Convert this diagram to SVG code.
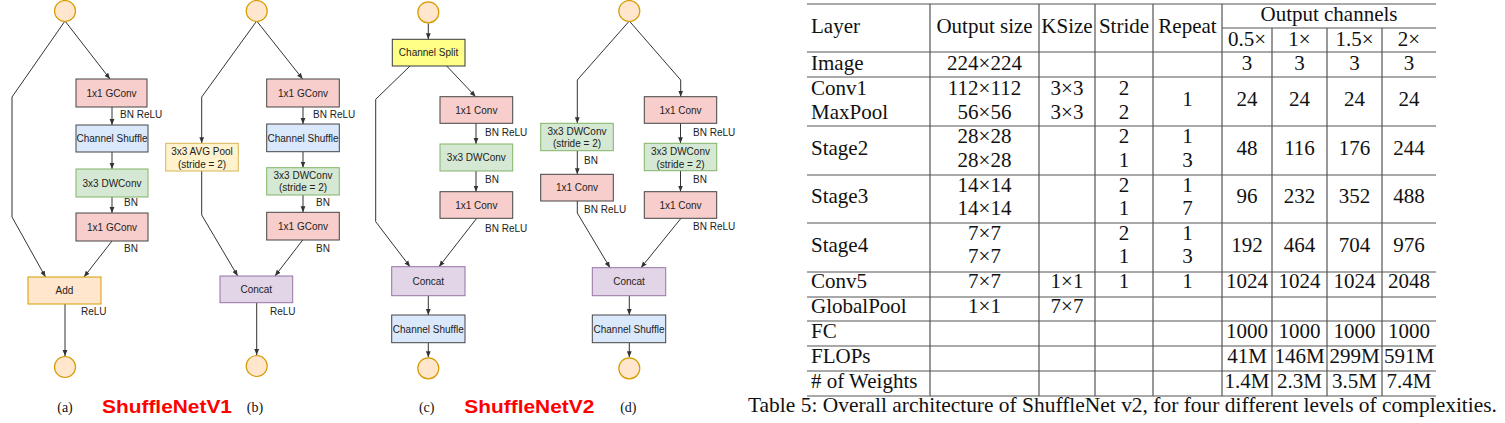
<svg xmlns="http://www.w3.org/2000/svg" width="1505" height="423" viewBox="0 0 1505 423">
<style>
.lbl{font-family:"Liberation Sans",Arial,sans-serif;font-size:10px;fill:#222}
.bt{font-family:"Liberation Sans",Arial,sans-serif;font-size:10px;fill:#222;text-anchor:middle}
.cap{font-family:"Liberation Serif","Times New Roman",serif;font-size:14px;fill:#111;text-anchor:middle}
.red{font-family:"Liberation Sans",Arial,sans-serif;font-size:19px;font-weight:bold;fill:#ff0000}
.io{fill:#ffe6cc;stroke:#d79b00;stroke-width:1.2}
.pink{fill:#f8cecc;stroke:#444;stroke-width:1}
.blue{fill:#dae8fc;stroke:#444;stroke-width:1}
.green{fill:#d5e8d4;stroke:#82b366;stroke-width:1}
.ylw{fill:#fff2cc;stroke:#d6b656;stroke-width:1}
.orng{fill:#ffe6cc;stroke:#d79b00;stroke-width:1}
.purp{fill:#e1d5e7;stroke:#9673a6;stroke-width:1}
.split{fill:#ffff88;stroke:#36393d;stroke-width:1}
.edge{fill:none;stroke:#333;stroke-width:1;marker-end:url(#ah)}
.t{font-family:"Liberation Serif","Times New Roman",serif;font-size:21px;fill:#111}
.tc{font-family:"Liberation Serif","Times New Roman",serif;font-size:21px;fill:#111;text-anchor:middle}
.grid{stroke:#555;stroke-width:1.2;fill:none}
</style>
<defs>
<marker id="ah" viewBox="0 0 10 10" refX="10" refY="5" markerWidth="6" markerHeight="6" markerUnits="userSpaceOnUse" orient="auto"><path d="M0,1 L10,5 L0,9 z" fill="#333"/></marker>
</defs>
<rect width="1505" height="423" fill="#fff"/>

<g id="connectors">
<path class="edge" d="M65,21 L12,97 L12,217 L45.5,277"/>
<path class="edge" d="M65,21 L110,79"/>
<path class="edge" d="M112,107 L112,125"/>
<path class="edge" d="M112,152 L112,169"/>
<path class="edge" d="M112,197 L112,213"/>
<path class="edge" d="M112,241 L84,277"/>
<path class="edge" d="M65,304 L65,356"/>
<path class="edge" d="M256.7,21 L201.7,97 L201.7,143.3"/>
<path class="edge" d="M256.7,21 L302.7,79"/>
<path class="edge" d="M303,107 L303,124"/>
<path class="edge" d="M303,151.7 L303,167.7"/>
<path class="edge" d="M303,195 L303,212.3"/>
<path class="edge" d="M201.7,171 L201.7,215 L237.7,276"/>
<path class="edge" d="M302.7,240 L275,276"/>
<path class="edge" d="M256.7,302.7 L256.7,355"/>
<path class="edge" d="M428.3,23.3 L428.3,39.3"/>
<path class="edge" d="M410,66 L375.7,99.3 L375.7,221.7 L410,266.7"/>
<path class="edge" d="M446.7,66 L475.7,96.7"/>
<path class="edge" d="M476,123.3 L476,144"/>
<path class="edge" d="M476,171 L476,191.7"/>
<path class="edge" d="M476.7,218.3 L439,266.7"/>
<path class="edge" d="M428.3,295.7 L428.3,315"/>
<path class="edge" d="M428.3,342.7 L428.3,357.3"/>
<path class="edge" d="M629.3,21 L577.3,80 L577.3,123.3"/>
<path class="edge" d="M629.3,21 L680.7,80 L680.7,96.7"/>
<path class="edge" d="M577.3,150.7 L577.3,174.3"/>
<path class="edge" d="M577.3,201 L577.3,213 L610,267.7"/>
<path class="edge" d="M680.5,123.3 L680.5,143.3"/>
<path class="edge" d="M680.5,170.7 L680.5,191.7"/>
<path class="edge" d="M681,218.3 L641,267.7"/>
<path class="edge" d="M629.3,295.7 L629.3,315"/>
<path class="edge" d="M629.3,342.7 L629.3,357.3"/>
</g>

<g id="edge-labels">
<text class="lbl" x="120" y="118">BN ReLU</text>
<text class="lbl" x="124" y="206">BN</text>
<text class="lbl" x="124" y="252">BN</text>
<text class="lbl" x="81" y="315">ReLU</text>
<text class="lbl" x="313" y="118">BN ReLU</text>
<text class="lbl" x="316" y="206">BN</text>
<text class="lbl" x="316" y="252">BN</text>
<text class="lbl" x="270" y="315">ReLU</text>
<text class="lbl" x="485" y="136">BN ReLU</text>
<text class="lbl" x="485" y="183">BN</text>
<text class="lbl" x="485" y="232">BN ReLU</text>
<text class="lbl" x="584" y="164">BN</text>
<text class="lbl" x="584" y="213">BN ReLU</text>
<text class="lbl" x="693" y="136">BN ReLU</text>
<text class="lbl" x="693" y="183">BN</text>
<text class="lbl" x="693" y="230">BN ReLU</text>
</g>

<g id="a_in"><circle class="io" cx="65" cy="11" r="10.5"/></g>
<g id="a_gconv1"><rect class="pink" x="76" y="79" width="71" height="28"/><text class="bt" x="111.5" y="96.5">1x1 GConv</text></g>
<g id="a_shuffle"><rect class="blue" x="76" y="125" width="72" height="27"/><text class="bt" x="112" y="142">Channel Shuffle</text></g>
<g id="a_dw"><rect class="green" x="76" y="169" width="72" height="28"/><text class="bt" x="112" y="186.5">3x3 DWConv</text></g>
<g id="a_gconv2"><rect class="pink" x="76" y="213" width="72" height="28"/><text class="bt" x="112" y="230.5">1x1 GConv</text></g>
<g id="a_add"><rect class="orng" x="28" y="277" width="73" height="27"/><text class="bt" x="64.5" y="294">Add</text></g>
<g id="a_out"><circle class="io" cx="65" cy="367" r="10.5"/></g>

<g id="b_in"><circle class="io" cx="256.7" cy="11" r="10.5"/></g>
<g id="b_avg"><rect class="ylw" x="165.7" y="143.3" width="72.6" height="27.7"/><text class="bt" x="202" y="155">3x3 AVG Pool</text><text class="bt" x="202" y="167.5">(stride = 2)</text></g>
<g id="b_gconv1"><rect class="pink" x="266.7" y="79" width="72.6" height="28"/><text class="bt" x="303" y="96.5">1x1 GConv</text></g>
<g id="b_shuffle"><rect class="blue" x="266.7" y="124" width="72.6" height="27.7"/><text class="bt" x="303" y="141.5">Channel Shuffle</text></g>
<g id="b_dw"><rect class="green" x="266.7" y="167.7" width="72.6" height="27.3"/><text class="bt" x="303" y="179">3x3 DWConv</text><text class="bt" x="303" y="191">(stride = 2)</text></g>
<g id="b_gconv2"><rect class="pink" x="266.7" y="212.3" width="72.6" height="27.7"/><text class="bt" x="303" y="229.5">1x1 GConv</text></g>
<g id="b_concat"><rect class="purp" x="220" y="276" width="72.7" height="26.7"/><text class="bt" x="256.3" y="293">Concat</text></g>
<g id="b_out"><circle class="io" cx="256.7" cy="366" r="10.5"/></g>

<g id="c_in"><circle class="io" cx="428.3" cy="12.3" r="10.5"/></g>
<g id="c_split"><rect class="split" x="392.3" y="39.3" width="72.7" height="26.7"/><text class="bt" x="428.6" y="56">Channel Split</text></g>
<g id="c_conv1"><rect class="pink" x="440" y="96.7" width="72.7" height="26.6"/><text class="bt" x="476.3" y="113.5">1x1 Conv</text></g>
<g id="c_dw"><rect class="green" x="440" y="144" width="72.7" height="27"/><text class="bt" x="476.3" y="161">3x3 DWConv</text></g>
<g id="c_conv2"><rect class="pink" x="440" y="191.7" width="72.7" height="26.6"/><text class="bt" x="476.3" y="208.5">1x1 Conv</text></g>
<g id="c_concat"><rect class="purp" x="391.7" y="266.7" width="73.3" height="29"/><text class="bt" x="428.3" y="284.5">Concat</text></g>
<g id="c_shuffle"><rect class="blue" x="391.7" y="315" width="73.3" height="27.7"/><text class="bt" x="428.3" y="332.5">Channel Shuffle</text></g>
<g id="c_out"><circle class="io" cx="428.3" cy="368.3" r="10.5"/></g>

<g id="d_in"><circle class="io" cx="629.3" cy="11" r="10.5"/></g>
<g id="d_ldw"><rect class="green" x="540.7" y="123.3" width="72.6" height="27.4"/><text class="bt" x="577" y="135">3x3 DWConv</text><text class="bt" x="577" y="147">(stride = 2)</text></g>
<g id="d_lconv"><rect class="pink" x="540.7" y="174.3" width="72.6" height="26.7"/><text class="bt" x="577" y="191">1x1 Conv</text></g>
<g id="d_rconv1"><rect class="pink" x="644.3" y="96.7" width="72.4" height="26.6"/><text class="bt" x="680.5" y="113.5">1x1 Conv</text></g>
<g id="d_rdw"><rect class="green" x="644.3" y="143.3" width="72.4" height="27.4"/><text class="bt" x="680.5" y="155">3x3 DWConv</text><text class="bt" x="680.5" y="167.5">(stride = 2)</text></g>
<g id="d_rconv2"><rect class="pink" x="644.3" y="191.7" width="72.4" height="26.6"/><text class="bt" x="680.5" y="208.5">1x1 Conv</text></g>
<g id="d_concat"><rect class="purp" x="592.3" y="267.7" width="73.4" height="28"/><text class="bt" x="629" y="285">Concat</text></g>
<g id="d_shuffle"><rect class="blue" x="592.3" y="315" width="73.4" height="27.7"/><text class="bt" x="629" y="332.5">Channel Shuffle</text></g>
<g id="d_out"><circle class="io" cx="629.3" cy="368.3" r="10.5"/></g>

<g id="captions">
<text class="cap" x="65" y="412">(a)</text>
<text class="red" x="102" y="413" textLength="130" lengthAdjust="spacingAndGlyphs">ShuffleNetV1</text>
<text class="cap" x="255" y="412">(b)</text>
<text class="cap" x="426.7" y="412">(c)</text>
<text class="red" x="464.3" y="413" textLength="130" lengthAdjust="spacingAndGlyphs">ShuffleNetV2</text>
<text class="cap" x="628.3" y="412">(d)</text>
</g>

<g id="table">
<g class="grid">
<path d="M807,4 H1436 M1222,28 H1436 M807,52 H1436 M807,77 H1436 M807,126 H1436 M807,175 H1436 M807,223 H1436 M807,272 H1436 M807,297 H1436 M807,321 H1436 M807,346 H1436 M807,371 H1436 M807,396 H1436"/>
<path d="M930,4 V396 M1039,4 V396 M1095,4 V396 M1153,4 V396 M1222,4 V396 M1272,28 V396 M1327,28 V396 M1382,28 V396"/>
</g>
<text class="t" x="811" y="33">Layer</text>
<text class="tc" x="984.5" y="33">Output size</text>
<text class="tc" x="1067" y="33">KSize</text>
<text class="tc" x="1124" y="33">Stride</text>
<text class="tc" x="1187.5" y="33">Repeat</text>
<text class="tc" x="1329" y="21">Output channels</text>
<text class="tc" x="1247" y="46">0.5×</text>
<text class="tc" x="1299.5" y="46">1×</text>
<text class="tc" x="1354.5" y="46">1.5×</text>
<text class="tc" x="1409" y="46">2×</text>

<text class="t" x="811" y="70">Image</text>
<text class="tc" x="984.5" y="70">224×224</text>
<text class="tc" x="1247" y="70">3</text><text class="tc" x="1299.5" y="70">3</text><text class="tc" x="1354.5" y="70">3</text><text class="tc" x="1409" y="70">3</text>

<text class="t" x="811" y="95">Conv1</text>
<text class="t" x="811" y="118.5">MaxPool</text>
<text class="tc" x="984.5" y="95">112×112</text>
<text class="tc" x="984.5" y="118.5">56×56</text>
<text class="tc" x="1067" y="95">3×3</text>
<text class="tc" x="1067" y="118.5">3×3</text>
<text class="tc" x="1124" y="95">2</text>
<text class="tc" x="1124" y="118.5">2</text>
<text class="tc" x="1187.5" y="106">1</text>
<text class="tc" x="1247" y="106">24</text><text class="tc" x="1299.5" y="106">24</text><text class="tc" x="1354.5" y="106">24</text><text class="tc" x="1409" y="106">24</text>

<text class="t" x="811" y="155">Stage2</text>
<text class="tc" x="984.5" y="143">28×28</text>
<text class="tc" x="984.5" y="167">28×28</text>
<text class="tc" x="1124" y="143">2</text><text class="tc" x="1124" y="167">1</text>
<text class="tc" x="1187.5" y="143">1</text><text class="tc" x="1187.5" y="167">3</text>
<text class="tc" x="1247" y="155">48</text><text class="tc" x="1299.5" y="155">116</text><text class="tc" x="1354.5" y="155">176</text><text class="tc" x="1409" y="155">244</text>

<text class="t" x="811" y="203">Stage3</text>
<text class="tc" x="984.5" y="192">14×14</text>
<text class="tc" x="984.5" y="215">14×14</text>
<text class="tc" x="1124" y="192">2</text><text class="tc" x="1124" y="215">1</text>
<text class="tc" x="1187.5" y="192">1</text><text class="tc" x="1187.5" y="215">7</text>
<text class="tc" x="1247" y="203">96</text><text class="tc" x="1299.5" y="203">232</text><text class="tc" x="1354.5" y="203">352</text><text class="tc" x="1409" y="203">488</text>

<text class="t" x="811" y="252">Stage4</text>
<text class="tc" x="984.5" y="240">7×7</text>
<text class="tc" x="984.5" y="263">7×7</text>
<text class="tc" x="1124" y="240">2</text><text class="tc" x="1124" y="263">1</text>
<text class="tc" x="1187.5" y="240">1</text><text class="tc" x="1187.5" y="263">3</text>
<text class="tc" x="1247" y="252">192</text><text class="tc" x="1299.5" y="252">464</text><text class="tc" x="1354.5" y="252">704</text><text class="tc" x="1409" y="252">976</text>

<text class="t" x="811" y="288">Conv5</text>
<text class="tc" x="984.5" y="288">7×7</text>
<text class="tc" x="1067" y="288">1×1</text>
<text class="tc" x="1124" y="288">1</text>
<text class="tc" x="1187.5" y="288">1</text>
<text class="tc" x="1247" y="288">1024</text><text class="tc" x="1299.5" y="288">1024</text><text class="tc" x="1354.5" y="288">1024</text><text class="tc" x="1409" y="288">2048</text>

<text class="t" x="811" y="313">GlobalPool</text>
<text class="tc" x="984.5" y="313">1×1</text>
<text class="tc" x="1067" y="313">7×7</text>

<text class="t" x="811" y="338">FC</text>
<text class="tc" x="1247" y="338">1000</text><text class="tc" x="1299.5" y="338">1000</text><text class="tc" x="1354.5" y="338">1000</text><text class="tc" x="1409" y="338">1000</text>

<text class="t" x="811" y="363">FLOPs</text>
<text class="tc" x="1247" y="363">41M</text><text class="tc" x="1299.5" y="363">146M</text><text class="tc" x="1354.5" y="363">299M</text><text class="tc" x="1409" y="363">591M</text>

<text class="t" x="811" y="388"># of Weights</text>
<text class="tc" x="1247" y="388">1.4M</text><text class="tc" x="1299.5" y="388">2.3M</text><text class="tc" x="1354.5" y="388">3.5M</text><text class="tc" x="1409" y="388">7.4M</text>

<text class="t" x="748" y="412" textLength="749" lengthAdjust="spacingAndGlyphs">Table 5: Overall architecture of ShuffleNet v2, for four different levels of complexities.</text>
</g>
</svg>
